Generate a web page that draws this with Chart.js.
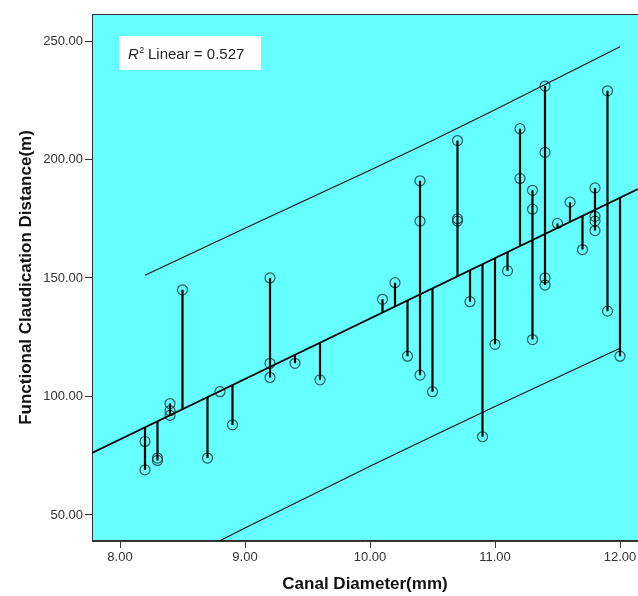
<!DOCTYPE html>
<html>
<head>
<meta charset="utf-8">
<script src="https://cdn.jsdelivr.net/npm/chart.js@4.4.1/dist/chart.umd.min.js"></script>
<style>
  html, body { margin: 0; padding: 0; background: #fff; }
  #wrap { width: 638px; height: 596px; position: relative; }
</style>
</head>
<body>
<div id="wrap"><canvas id="grafica" width="638" height="596"></canvas></div>
<script>
// datos
const diametro = [8.2, 8.2, 8.3, 8.3, 8.4, 8.4, 8.4, 8.5, 8.7, 8.8, 8.9, 9.2, 9.2, 9.2, 9.4, 9.6,
  10.1, 10.2, 10.3, 10.4, 10.4, 10.4, 10.5, 10.7, 10.7, 10.7, 10.8, 10.9, 11.0, 11.1,
  11.2, 11.2, 11.3, 11.3, 11.3, 11.4, 11.4, 11.4, 11.4, 11.5, 11.6, 11.7,
  11.8, 11.8, 11.8, 11.8, 11.9, 11.9, 12.0];
const distancia = [81, 69, 74, 73, 97, 94, 92, 145, 74, 102, 88, 150, 114, 108, 114, 107,
  141, 148, 117, 191, 174, 109, 102, 208, 175, 174, 140, 83, 122, 153,
  213, 192, 187, 179, 124, 231, 203, 150, 147, 173, 182, 162,
  188, 176, 174, 170, 229, 136, 117];

const interceptoAjuste = -122.1;
const pendienteAjuste = 25.5;

// intervalo de prediccion
const xIntervalo = [8.2, 9.0, 10.0, 10.5, 11.0, 12.0];
const ySuperior = [151.1, 171.0, 195.5, 208.0, 221.0, 247.6];
const yInferior = [23.0, 44.5, 70.5, 83.2, 95.8, 120.3];

const ticksX = [8, 9, 10, 11, 12];
const ticksY = [50, 100, 150, 200, 250];
const rangoX = [7.776, 12.144];
const rangoY = [39, 261.4];

const ajuste = x => interceptoAjuste + pendienteAjuste * x;

const puntos = diametro.map((x, i) => ({ x: x, y: distancia[i] }));
const lineasCaida = [];
diametro.forEach((x, i) => {
    lineasCaida.push({ x: x, y: distancia[i] });
    lineasCaida.push({ x: x, y: ajuste(x) });
    lineasCaida.push({ x: x, y: null });
});
const lineaAjuste = rangoX.map(x => ({ x: x, y: ajuste(x) }));
const lineaSup = xIntervalo.map((x, i) => ({ x: x, y: ySuperior[i] }));
const lineaInf = xIntervalo.map((x, i) => ({ x: x, y: yInferior[i] }));

const fondoPlot = {
    id: 'fondoPlot',
    beforeDatasetsDraw(chart) {
        const { ctx, chartArea: a } = chart;
        ctx.save();
        ctx.fillStyle = '#66ffff';
        ctx.fillRect(a.left, a.top, a.right - a.left, a.bottom - a.top);
        ctx.strokeStyle = '#333';
        ctx.lineWidth = 1;
        ctx.strokeRect(a.left + 0.5, a.top + 0.5, a.right - a.left + 2, a.bottom - a.top - 1);
        ctx.restore();
    },
    afterDatasetsDraw(chart) {
        const { ctx } = chart;
        ctx.save();
        ctx.fillStyle = '#fff';
        ctx.fillRect(119, 36, 142, 34);
        ctx.fillStyle = '#222';
        ctx.textBaseline = 'alphabetic';
        ctx.font = 'italic 15px "Liberation Sans", Arial, sans-serif';
        ctx.fillText('R', 128, 59);
        let w = ctx.measureText('R').width;
        ctx.font = '9px "Liberation Sans", Arial, sans-serif';
        ctx.fillText('2', 128 + w + 0.5, 53);
        ctx.font = '15px "Liberation Sans", Arial, sans-serif';
        ctx.fillText(' Linear = 0.527', 128 + w + 5, 59);
        ctx.restore();
    }
};

const fuenteTicks = { family: '"Liberation Sans", Arial, sans-serif', size: 13 };
const fuenteTitulo = { family: '"Liberation Sans", Arial, sans-serif', size: 17, weight: 'bold' };

new Chart(document.getElementById('grafica'), {
    type: 'scatter',
    data: {
        datasets: [
            { data: lineasCaida, showLine: true, spanGaps: false, borderColor: '#000', borderWidth: 2.2, pointRadius: 0, clip: 0 },
            { data: lineaAjuste, showLine: true, borderColor: '#000', borderWidth: 1.8, pointRadius: 0, clip: 0 },
            { data: lineaSup, showLine: true, borderColor: '#111', borderWidth: 1.1, pointRadius: 0, clip: 0 },
            { data: lineaInf, showLine: true, borderColor: '#111', borderWidth: 1.1, pointRadius: 0, clip: 0 },
            { data: puntos, pointRadius: 5, pointBorderColor: 'rgba(25,50,50,0.8)', pointBorderWidth: 1.2, pointBackgroundColor: 'rgba(0,0,0,0)', pointHoverRadius: 5 }
        ]
    },
    options: {
        responsive: false,
        animation: false,
        events: [],
        layout: { autoPadding: false, padding: { top: 14, right: 0, left: 0, bottom: 0 } },
        plugins: { legend: { display: false }, tooltip: { enabled: false } },
        scales: {
            x: {
                type: 'linear', min: rangoX[0], max: rangoX[1],
                afterBuildTicks: s => { s.ticks = ticksX.map(v => ({ value: v })); },
                afterFit: s => { s.height = 55; s.paddingRight = 0; },
                ticks: { color: '#333', font: fuenteTicks, padding: 2, maxRotation: 0, callback: v => v.toFixed(2) },
                grid: { drawOnChartArea: false, drawTicks: true, tickLength: 7, tickColor: '#333' },
                border: { display: true, color: '#333', width: 1 },
                title: { display: true, text: 'Canal Diameter(mm)', color: '#111', font: fuenteTitulo, padding: { top: 0, bottom: 1 } }
            },
            y: {
                type: 'linear', min: rangoY[0], max: rangoY[1],
                afterBuildTicks: s => { s.ticks = ticksY.map(v => ({ value: v })); },
                afterFit: s => { s.width = 92; },
                ticks: { color: '#333', font: fuenteTicks, padding: 2, callback: v => v.toFixed(2) },
                grid: { drawOnChartArea: false, drawTicks: true, tickLength: 7, tickColor: '#333' },
                border: { display: true, color: '#333', width: 1 },
                title: { display: true, text: 'Functional Claudication Distance(m)', color: '#111', font: fuenteTitulo, padding: { top: 16, bottom: 0 } }
            }
        }
    },
    plugins: [fondoPlot]
});
</script>
</body>
</html>
